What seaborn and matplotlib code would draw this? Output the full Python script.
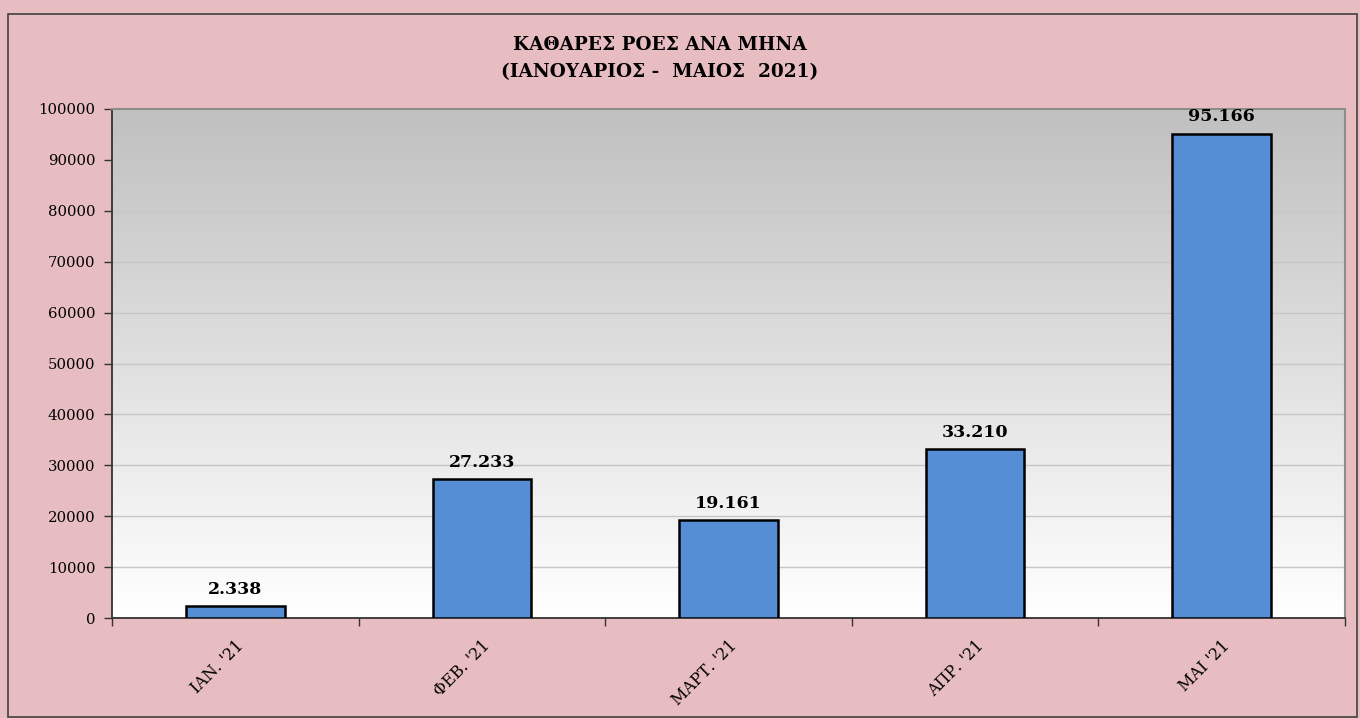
import matplotlib
matplotlib.use("Agg")
import matplotlib.pyplot as plt
import seaborn as sns
import numpy as np
import pandas as pd
from matplotlib.patches import Rectangle

sns.set_theme(style="white")
plt.rcParams['font.family'] = ['DejaVu Serif', 'Liberation Serif']
plt.rcParams['text.color'] = 'black'
plt.rcParams['xtick.color'] = 'black'
plt.rcParams['ytick.color'] = 'black'

# data
months = ["ΙΑΝ. '21", "ΦΕΒ. '21", "ΜΑΡΤ. '21", "ΑΠΡ. '21", "ΜΑΙ '21"]
net_flows = [2338, 27233, 19161, 33210, 95166]
title_lines = ["ΚΑΘΑΡΕΣ ΡΟΕΣ ΑΝΑ ΜΗΝΑ", "(ΙΑΝΟΥΑΡΙΟΣ -  ΜΑΙΟΣ  2021)"]
y_ticks = [0, 10000, 20000, 30000, 40000, 50000, 60000, 70000, 80000, 90000, 100000]

df = pd.DataFrame({"month": months, "value": net_flows})

bg = '#e8bdc1'
fig = plt.figure(figsize=(13.6, 7.18), dpi=100, facecolor=bg)

# outer chart frame
fig.patches.append(Rectangle((8 / 1360, 0.002), 1349 / 1360, 1 - 14 / 718 - 0.002,
                             transform=fig.transFigure, fill=False,
                             edgecolor='#404040', linewidth=1.2))

ax = fig.add_axes([112 / 1360, 1 - 618 / 718, 1233 / 1360, 509 / 718])
ax.set_facecolor('none')

# grey-to-white gradient plot area
grad = np.linspace(1, 0, 256).reshape(-1, 1)
ax.imshow(grad, extent=(-0.5, 4.5, 0, 100000), aspect='auto',
          cmap=matplotlib.colors.LinearSegmentedColormap.from_list('g', ['#ffffff', '#c0c0c0']),
          zorder=0, origin='upper')

sns.barplot(data=df, x="month", y="value", width=0.4, color='#558ed5',
            saturation=1, edgecolor='black', linewidth=1.8, ax=ax, zorder=3)

ax.set_xlim(-0.5, 4.5)
ax.set_ylim(0, 100000)
ax.set_yticks(y_ticks)
ax.set_yticklabels([str(v) for v in y_ticks], fontsize=10.7)
ax.yaxis.grid(True, color='#c6c6c6', linewidth=1)
for gl in ax.get_ygridlines():
    gl.set_zorder(1)

# category boundaries as major ticks, labels on minor ticks
ax.set_xticks(np.arange(-0.5, 5, 1))
ax.set_xticklabels([])
ax.set_xticks(range(len(months)), minor=True)
ax.set_xticklabels(months, minor=True, rotation=45, ha='right',
                   rotation_mode='anchor', fontsize=11.5)
ax.tick_params(axis='x', which='minor', length=0, pad=14)
ax.tick_params(axis='x', which='major', length=6, width=1, color='#333333', direction='out', bottom=True)
ax.tick_params(axis='y', length=6, width=1, color='#333333', direction='out', left=True, pad=6)

ax.set_xlabel("")
ax.set_ylabel("")

for s in ['left', 'bottom']:
    ax.spines[s].set_color('#333333')
    ax.spines[s].set_linewidth(1.3)
for s in ['top', 'right']:
    ax.spines[s].set_color('#8c8c8c')
    ax.spines[s].set_linewidth(1.5)

labels = [f"{v:,}".replace(',', '.') for v in net_flows]
ax.bar_label(ax.containers[0], labels=labels, padding=6, fontsize=12.5,
             fontweight='bold', zorder=4)

fig.text(660 / 1360, 1 - 45 / 718, title_lines[0], ha='center', va='center',
         fontsize=13.3, fontweight='bold')
fig.text(660 / 1360, 1 - 72 / 718, title_lines[1], ha='center', va='center',
         fontsize=13.3, fontweight='bold')

fig.savefig("out.png", dpi=100, facecolor=bg)
